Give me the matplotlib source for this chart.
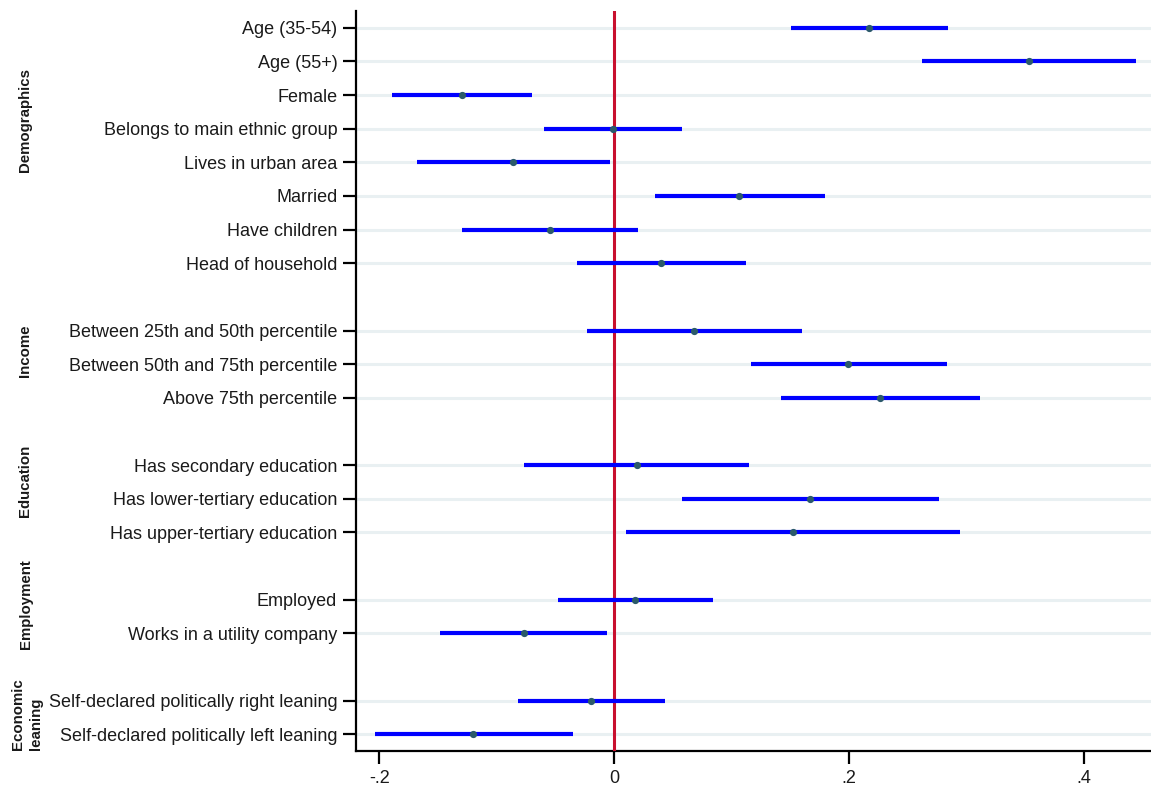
import matplotlib
matplotlib.use("Agg")
import matplotlib.pyplot as plt
import matplotlib.transforms as mtransforms
import numpy as np

plt.rcParams['font.family'] = ['Liberation Sans', 'DejaVu Sans']

# Coefficient labels (top to bottom), grouped
labels = [
    "Age (35-54)", "Age (55+)", "Female", "Belongs to main ethnic group",
    "Lives in urban area", "Married", "Have children", "Head of household",
    "Between 25th and 50th percentile", "Between 50th and 75th percentile",
    "Above 75th percentile",
    "Has secondary education", "Has lower-tertiary education",
    "Has upper-tertiary education",
    "Employed", "Works in a utility company",
    "Self-declared politically right leaning",
    "Self-declared politically left leaning",
]

# Row position of each coefficient (blank rows separate groups)
rows = [0, 1, 2, 3, 4, 5, 6, 7, 9, 10, 11, 13, 14, 15, 17, 18, 20, 21]

# Point estimates and 95% confidence bounds
coef = [0.217, 0.353, -0.130, -0.001, -0.086, 0.106, -0.055, 0.040,
        0.068, 0.199, 0.226, 0.019, 0.167, 0.152, 0.018, -0.077, -0.020, -0.120]
ci_lo = [0.150, 0.262, -0.189, -0.060, -0.168, 0.035, -0.130, -0.032,
         -0.023, 0.116, 0.142, -0.077, 0.058, 0.010, -0.048, -0.148, -0.082, -0.204]
ci_hi = [0.284, 0.444, -0.070, 0.058, -0.004, 0.179, 0.020, 0.112,
         0.160, 0.283, 0.311, 0.115, 0.276, 0.294, 0.084, -0.006, 0.043, -0.035]

# Group headings and the row at which each is centred
groups = ["Demographics", "Income", "Education", "Employment", "Economic\nleaning"]
group_rows = [2.74, 9.61, 13.48, 17.14, 20.39]
group_x = [25, 25, 25, 26, 27]

xticks = [-0.2, 0.0, 0.2, 0.4]
xtick_labels = ["-.2", "0", ".2", ".4"]

W, H = 1151, 785
fig = plt.figure(figsize=(W / 100, H / 100), dpi=100)
ax = fig.add_axes([356 / W, 1 - 751 / H, (W - 356) / W, (751 - 11) / H])

# Light horizontal guide lines at each coefficient row
for r in rows:
    ax.axhline(r, color="#e9f0f2", lw=2.2, zorder=1)

# Reference line at zero
ax.axvline(0, color="#c8102e", lw=2.2, zorder=3)

# Confidence intervals
ax.hlines(rows, ci_lo, ci_hi, color="#0000ff", lw=3.0, zorder=4)

# Point estimates
ax.plot(coef, rows, "o", color="#2b5a6a", ms=4.2, mec="#2b5a6a", zorder=5)

ax.set_ylim(21.5, -0.5)
ax.set_xlim(-0.2198, 0.4568)

ax.set_yticks(rows)
ax.set_yticklabels(labels, fontsize=13, color="#1a1a1a")
ax.set_xticks(xticks)
ax.set_xticklabels(xtick_labels, fontsize=13, color="#1a1a1a")

ax.tick_params(axis="both", length=9.5, width=1.6, color="black", pad=4)
for side in ("top", "right"):
    ax.spines[side].set_visible(False)
for side in ("left", "bottom"):
    ax.spines[side].set_linewidth(1.6)
    ax.spines[side].set_color("black")

# Group headings on the far left
trans = mtransforms.blended_transform_factory(fig.transFigure, ax.transData)
for name, r, gx in zip(groups, group_rows, group_x):
    ax.text(gx / W, r, name, transform=trans, rotation=90, ha="center",
            va="center", fontsize=10.8, fontweight="bold", color="#1a1a1a",
            multialignment="left", linespacing=1.3)

fig.savefig("out.png", dpi=100)
